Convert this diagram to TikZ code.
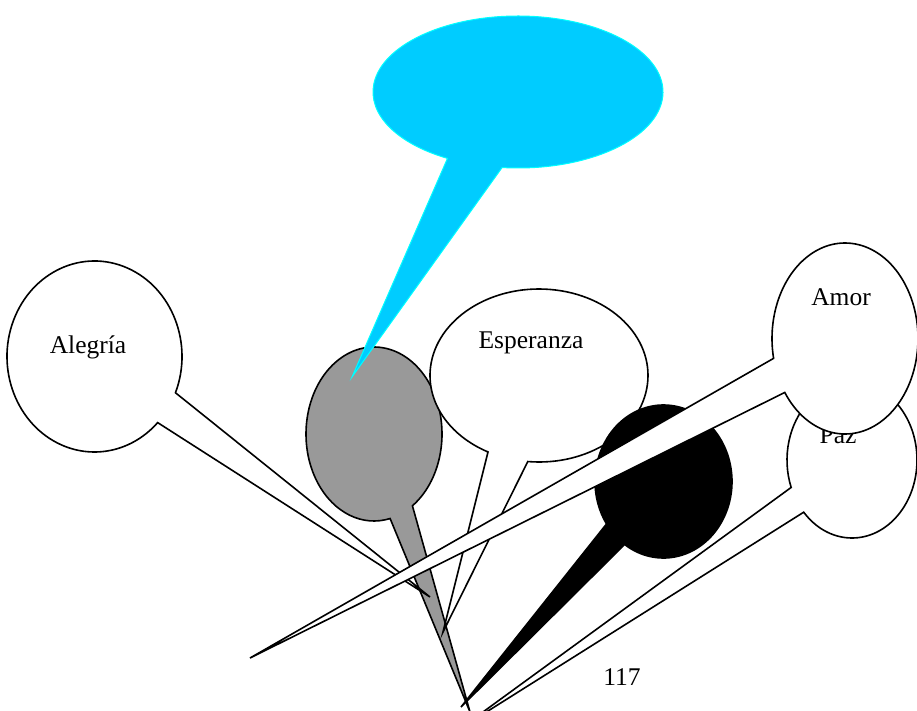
\documentclass[tikz,border=0pt]{standalone}
\usepackage{fontspec}
\setmainfont{Liberation Serif}
\usetikzlibrary{calc}
\definecolor{bubcyan}{RGB}{0,204,255}
\definecolor{bubcyanline}{RGB}{0,255,255}
\definecolor{bubgray}{RGB}{153,153,153}
\tikzset{
  bubwhite/.style={draw=black, fill=white, line width=1.6pt},
  bubgrey/.style={draw=black, fill=bubgray, line width=1.6pt},
  bubblack/.style={draw=black, fill=black, line width=1.6pt},
  bubblue/.style={draw=bubcyanline, fill=bubcyan, line width=1pt},
  lbl/.style={anchor=base, inner sep=0pt, font=\fontsize{25.5}{30}\selectfont}
}
\begin{document}
\begin{tikzpicture}[x=1pt,y=1pt]
\useasboundingbox (0,0) rectangle (917,-711);
% centres and tips
\coordinate (gc) at (374,-434);   \coordinate (gt) at (470,-712);
\coordinate (cc) at (518,-92);    \coordinate (ct) at (352,-377);
\coordinate (ec) at (539,-375.5); \coordinate (et) at (443,-632);
\coordinate (ac) at (94.5,-356.5);\coordinate (at) at (430,-597);
\coordinate (bc) at (663.5,-481.5);\coordinate (bt) at (461,-707);
\coordinate (pc) at (852,-460);   \coordinate (pt) at (461,-728);
\coordinate (mc) at (845,-338.5); \coordinate (mt) at (250,-658);
% gray bubble
\path[bubgrey] ($(gc)+(-76.3:68pt and 87pt)$) -- (gt) -- ($(gc)+(-55.6:68pt and 87pt)$)
  arc[start angle=-55.6, end angle=283.7, x radius=68pt, y radius=87pt] -- cycle;
% cyan bubble
\path[bubblue] ($(cc)+(-119.1:145pt and 76pt)$) -- (ct) -- ($(cc)+(-96.3:145pt and 76pt)$)
  arc[start angle=-96.3, end angle=240.9, x radius=145pt, y radius=76pt] -- cycle;
% Esperanza
\path[bubwhite] ($(ec)+(-117.9:109pt and 86.5pt)$) -- (et) -- ($(ec)+(-95.9:109pt and 86.5pt)$)
  arc[start angle=-95.9, end angle=242.1, x radius=109pt, y radius=86.5pt] -- cycle;
\node[lbl] (tesp) at (531,-348) {Esperanza};
% Alegria
\path[bubwhite] ($(ac)+(-43.8:87.5pt and 95.5pt)$) -- (at) -- ($(ac)+(-22.3:87.5pt and 95.5pt)$)
  arc[start angle=-22.3, end angle=316.2, x radius=87.5pt, y radius=95.5pt] -- cycle;
\node[lbl] (tale) at (88,-353) {Alegría};
% black bubble
\path[bubblack] ($(bc)+(-146.3:68.5pt and 76.5pt)$) -- (bt) -- ($(bc)+(-124.6:68.5pt and 76.5pt)$)
  arc[start angle=-124.6, end angle=213.7, x radius=68.5pt, y radius=76.5pt] -- cycle;
% Paz
\path[bubwhite] ($(pc)+(-159.4:65pt and 78pt)$) -- (pt) -- ($(pc)+(-138:65pt and 78pt)$)
  arc[start angle=-138, end angle=200.6, x radius=65pt, y radius=78pt] -- cycle;
\node[lbl] (tpaz) at (838,-443) {Paz};
% Amor
\path[bubwhite] ($(mc)+(-168:73pt and 95.5pt)$) -- (mt) -- ($(mc)+(-145.6:73pt and 95.5pt)$)
  arc[start angle=-145.6, end angle=192, x radius=73pt, y radius=95.5pt] -- cycle;
\node[lbl] (tamo) at (841,-305) {Amor};
% page number
\node[lbl] (tnum) at (622,-685) {117};
\end{tikzpicture}
\end{document}
